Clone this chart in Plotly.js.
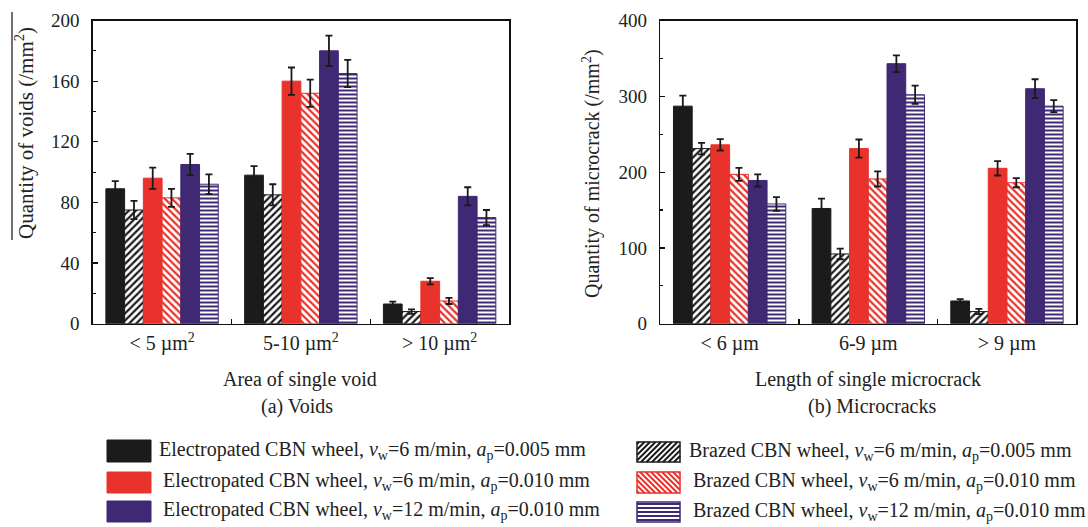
<!DOCTYPE html>
<html>
<head>
<meta charset="utf-8">
<script src="https://cdn.plot.ly/plotly-3.0.1.min.js"></script>
<style>html,body{margin:0;padding:0;background:#fff;}#chart{width:1088px;height:527px;}</style>
</head>
<body>
<div id="chart"></div>
<script>
// ---------- DATA ----------
var voidCategories = ['< 5 µm<sup>2</sup>', '5-10 µm<sup>2</sup>', '> 10 µm<sup>2</sup>'];
var crackCategories = ['< 6 µm', '6-9 µm', '> 9 µm'];

var seriesNames = [
  'Electropated CBN wheel, <i>v</i><sub>w</sub>=6 m/min, <i>a</i><sub>p</sub>=0.005 mm',
  'Brazed CBN wheel, <i>v</i><sub>w</sub>=6 m/min, <i>a</i><sub>p</sub>=0.005 mm',
  'Electropated CBN wheel, <i>v</i><sub>w</sub>=6 m/min, <i>a</i><sub>p</sub>=0.010 mm',
  'Brazed CBN wheel, <i>v</i><sub>w</sub>=6 m/min, <i>a</i><sub>p</sub>=0.010 mm',
  'Electropated CBN wheel, <i>v</i><sub>w</sub>=12 m/min, <i>a</i><sub>p</sub>=0.010 mm',
  'Brazed CBN wheel, <i>v</i><sub>w</sub>=12 m/min, <i>a</i><sub>p</sub>=0.010 mm'
];

// Voids (/mm^2)
var voidsElec6_005 = [89, 98, 13];
var voidsElec6_005Err = [5, 6, 1.5];
var voidsBraz6_005 = [75, 85, 8];
var voidsBraz6_005Err = [6, 7, 1.5];
var voidsElec6_010 = [96, 160, 28];
var voidsElec6_010Err = [7, 9, 2];
var voidsBraz6_010 = [83, 152, 15];
var voidsBraz6_010Err = [6, 9, 2];
var voidsElec12_010 = [105, 180, 84];
var voidsElec12_010Err = [7, 10, 6];
var voidsBraz12_010 = [92, 165, 70];
var voidsBraz12_010Err = [6.5, 9, 5];

// Microcracks (/mm^2)
var cracksElec6_005 = [287, 152, 30];
var cracksElec6_005Err = [14, 13, 2.5];
var cracksBraz6_005 = [231, 92, 16];
var cracksBraz6_005Err = [7.5, 7, 3.5];
var cracksElec6_010 = [236, 231, 205];
var cracksElec6_010Err = [7.5, 12, 9.5];
var cracksBraz6_010 = [197, 191, 186];
var cracksBraz6_010Err = [8.5, 10, 6];
var cracksElec12_010 = [189, 343, 310];
var cracksElec12_010Err = [8, 11, 12.5];
var cracksBraz12_010 = [158, 302, 287];
var cracksBraz12_010Err = [9, 12, 8];

// ---------- STYLE ----------
var BLACK = '#1b1b1b', RED = '#e8322b', PURPLE = '#3f2874';
var FONT = 'Liberation Serif, Times New Roman, serif';
var TXT = '#222';
var W = 1088, H = 527;
function px(x){ return x / W; }
function py(y){ return 1 - y / H; }

var styles = [
  {color: BLACK, pattern: null},
  {color: BLACK, pattern: '/'},
  {color: RED, pattern: null},
  {color: RED, pattern: '\\'},
  {color: PURPLE, pattern: null},
  {color: PURPLE, pattern: '-'}
];

var voidSeries = [
  [voidsElec6_005, voidsElec6_005Err], [voidsBraz6_005, voidsBraz6_005Err],
  [voidsElec6_010, voidsElec6_010Err], [voidsBraz6_010, voidsBraz6_010Err],
  [voidsElec12_010, voidsElec12_010Err], [voidsBraz12_010, voidsBraz12_010Err]
];
var crackSeries = [
  [cracksElec6_005, cracksElec6_005Err], [cracksBraz6_005, cracksBraz6_005Err],
  [cracksElec6_010, cracksElec6_010Err], [cracksBraz6_010, cracksBraz6_010Err],
  [cracksElec12_010, cracksElec12_010Err], [cracksBraz12_010, cracksBraz12_010Err]
];

function makeTrace(cats, vals, errs, i, xa, ya){
  var s = styles[i];
  var marker = {color: s.color, line: {color: s.color, width: 1}};
  if (s.pattern) {
    marker.color = '#ffffff';
    marker.pattern = {shape: s.pattern, fgcolor: s.color, bgcolor: '#ffffff',
                      size: s.pattern === '-' ? 4 : 5, solidity: s.pattern === '-' ? 0.5 : 0.45,
                      fillmode: 'replace'};
  }
  return {
    type: 'bar', x: cats, y: vals, name: seriesNames[i], xaxis: xa, yaxis: ya,
    marker: marker, showlegend: false,
    error_y: {type: 'data', array: errs, visible: true, color: '#1a1a1a', thickness: 1.8, width: 3.5},
    hoverinfo: 'x+y'
  };
}

var data = [];
voidSeries.forEach(function(s, i){ data.push(makeTrace(voidCategories, s[0], s[1], i, 'x', 'y')); });
crackSeries.forEach(function(s, i){ data.push(makeTrace(crackCategories, s[0], s[1], i, 'x2', 'y2')); });

var yTop = 20.5, yBot = 323.7;
function xAxis(domain, anchor){
  return {
    domain: domain, anchor: anchor, type: 'category',
    showline: true, linecolor: '#111', linewidth: 1.5, mirror: true,
    ticks: 'inside', tickson: 'boundaries', ticklen: 5, tickcolor: '#111', tickwidth: 1.2,
    showgrid: false, zeroline: false,
    tickfont: {family: FONT, size: 20, color: TXT}, ticklabelstandoff: 1,
    fixedrange: true
  };
}
function yAxis(domain, anchor, max, dt){
  return {
    domain: domain, anchor: anchor, range: [0, max], dtick: dt, tick0: 0,
    showline: true, linecolor: '#111', linewidth: 1.5, mirror: true,
    ticks: 'inside', ticklen: 5, tickcolor: '#111', tickwidth: 1.2,
    minor: {dtick: dt / 2, ticks: 'inside', ticklen: 3, tickcolor: '#111', tickwidth: 1.2},
    showgrid: false, zeroline: false,
    tickfont: {family: FONT, size: 19, color: TXT}, ticklabelstandoff: 8,
    fixedrange: true
  };
}

var annotations = [];
function ann(text, x, y, opts){
  var a = {text: text, x: px(x), y: py(y), xref: 'paper', yref: 'paper', showarrow: false,
           font: {family: FONT, size: 20, color: TXT}, xanchor: 'center', yanchor: 'middle'};
  for (var k in opts) a[k] = opts[k];
  annotations.push(a);
}
ann('Quantity of voids (/mm<sup>2</sup>)', 24, 133, {textangle: -90, font: {family: FONT, size: 21, color: TXT}});
ann('Quantity of microcrack (/mm<sup>2</sup>)', 591, 174, {textangle: -90});
ann('Area of single void', 300, 379);
ann('(a) Voids', 297, 406);
ann('Length of single microcrack', 868, 379);
ann('(b) Microcracks', 872, 406);

var shapes = [];
// vertical line beside left y title
shapes.push({type: 'line', xref: 'paper', yref: 'paper', x0: px(12), x1: px(12), y0: py(12), y1: py(240),
             line: {color: '#111', width: 1.2}});

// custom legend
var legendRows = [
  {i: 0, x0: 107, x1: 151, y0: 440, y1: 462, tx: 157},
  {i: 2, x0: 107, x1: 151, y0: 472, y1: 493, tx: 161},
  {i: 4, x0: 107, x1: 151, y0: 501, y1: 522, tx: 161},
  {i: 1, x0: 637, x1: 680, y0: 442, y1: 462, tx: 687},
  {i: 3, x0: 637, x1: 680, y0: 472, y1: 493, tx: 691},
  {i: 5, x0: 637, x1: 680, y0: 502, y1: 522, tx: 691}
];
function hatchPath(r, shape){
  var segs = [], s, c;
  if (shape === '-') {
    s = 4;
    for (var y = r.y0 + 2; y < r.y1; y += s) segs.push([r.x0, y, r.x1, y]);
  } else if (shape === '/') {
    s = 5.5;
    for (c = r.x0 + r.y0 + 2; c < r.x1 + r.y1; c += s) {
      var xa = Math.max(r.x0, c - r.y1), xb = Math.min(r.x1, c - r.y0);
      if (xb > xa) segs.push([xa, c - xa, xb, c - xb]);
    }
  } else {
    s = 5.5;
    for (c = r.x0 - r.y1 + 2; c < r.x1 - r.y0; c += s) {
      var xa2 = Math.max(r.x0, c + r.y0), xb2 = Math.min(r.x1, c + r.y1);
      if (xb2 > xa2) segs.push([xa2, xa2 - c, xb2, xb2 - c]);
    }
  }
  return segs.map(function(g){
    return 'M' + px(g[0]).toFixed(5) + ',' + py(g[1]).toFixed(5) + 'L' + px(g[2]).toFixed(5) + ',' + py(g[3]).toFixed(5);
  }).join('');
}
legendRows.forEach(function(r){
  var st = styles[r.i];
  if (!st.pattern) {
    shapes.push({type: 'rect', xref: 'paper', yref: 'paper', x0: px(r.x0), x1: px(r.x1), y0: py(r.y1), y1: py(r.y0),
                 fillcolor: st.color, line: {color: st.color, width: 1}});
  } else {
    shapes.push({type: 'rect', xref: 'paper', yref: 'paper', x0: px(r.x0), x1: px(r.x1), y0: py(r.y1), y1: py(r.y0),
                 fillcolor: '#ffffff', line: {color: st.color, width: 1.5}});
    shapes.push({type: 'path', xref: 'paper', yref: 'paper', path: hatchPath(r, st.pattern),
                 line: {color: st.color, width: st.pattern === '-' ? 1.8 : 2}});
  }
  ann(seriesNames[r.i], r.tx, (r.y0 + r.y1) / 2 - 1, {xanchor: 'left'});
});

var layout = {
  width: W, height: H,
  margin: {l: 0, r: 0, t: 0, b: 0},
  paper_bgcolor: '#fff', plot_bgcolor: '#fff',
  barmode: 'group', bargap: 0.19, bargroupgap: 0,
  showlegend: false,
  font: {family: FONT, color: TXT},
  xaxis: xAxis([px(92.7), px(509)], 'y'),
  yaxis: yAxis([py(yBot), py(yTop)], 'x', 200, 40),
  xaxis2: xAxis([px(660.3), px(1076.3)], 'y2'),
  yaxis2: yAxis([py(yBot), py(yTop)], 'x2', 400, 100),
  annotations: annotations,
  shapes: shapes
};

Plotly.newPlot('chart', data, layout, {displayModeBar: false, staticPlot: true});
</script>
</body>
</html>
